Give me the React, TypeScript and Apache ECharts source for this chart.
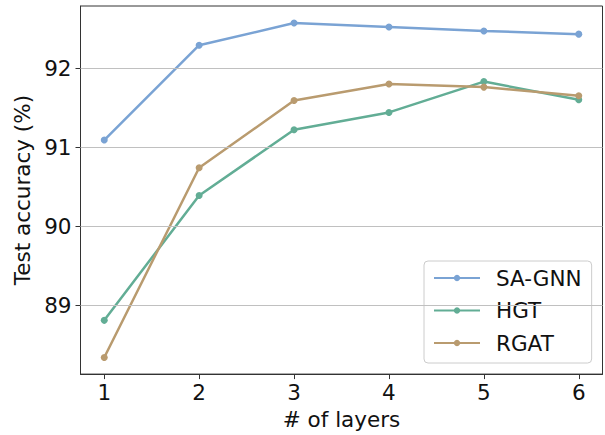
import React, { useEffect, useRef } from "react";
import * as echarts from "echarts";

const layers = [1, 2, 3, 4, 5, 6];
const saGnn = [91.09, 92.29, 92.57, 92.52, 92.47, 92.43];
const hgt = [88.81, 90.39, 91.22, 91.44, 91.83, 91.6];
const rgat = [88.34, 90.74, 91.59, 91.8, 91.76, 91.65];
const yTicks = [89, 90, 91, 92];
const seriesNames = ["SA-GNN", "HGT", "RGAT"];
const colors = ["#7aa3d4", "#62ad95", "#b99b6f"];

const FONT = "DejaVu Sans";
const X_MIN = 0.75;
const X_MAX = 6.25;
const Y_MIN = 88.13;
const Y_MAX = 92.786;

export default function App() {
  const ref = useRef<HTMLDivElement>(null);
  useEffect(() => {
    if (!ref.current) return;
    const chart = echarts.init(ref.current, undefined, { renderer: "svg" });
    const datas = [saGnn, hgt, rgat];
    chart.setOption({
      animation: false,
      backgroundColor: "#ffffff",
      grid: {
        left: 80.5,
        right: 2.5,
        top: 6,
        bottom: 60,
        show: true,
        borderColor: "#333333",
        borderWidth: 1,
        backgroundColor: "transparent",
      },
      legend: {
        orient: "vertical",
        left: 424,
        top: 261,
        padding: [6, 10, 9, 9],
        borderColor: "#cccccc",
        borderWidth: 1,
        borderRadius: 4,
        backgroundColor: "rgba(255,255,255,0.8)",
        itemWidth: 46,
        itemHeight: 8,
        itemGap: 10.5,
        textStyle: {
          fontFamily: FONT,
          fontSize: 21.5,
          color: "#111",
          lineHeight: 22,
          padding: [0, 0, 0, 11],
        },
        data: seriesNames,
      },
      xAxis: {
        type: "value",
        min: X_MIN,
        max: X_MAX,
        name: "# of layers",
        nameLocation: "middle",
        nameGap: 30,
        nameTextStyle: { fontFamily: FONT, fontSize: 21.5, color: "#111" },
        axisLine: { show: true, onZero: false, lineStyle: { color: "#333", width: 1 } },
        axisTick: {
          show: true,
          inside: false,
          length: 5,
          lineStyle: { color: "#333" },
          customValues: layers,
        },
        axisLabel: {
          fontFamily: FONT,
          fontSize: 21.5,
          color: "#111",
          margin: 7,
          customValues: layers,
        },
        splitLine: { show: false },
      },
      yAxis: {
        type: "value",
        min: Y_MIN,
        max: Y_MAX,
        name: "Test accuracy (%)",
        nameLocation: "middle",
        nameGap: 42,
        nameTextStyle: { fontFamily: FONT, fontSize: 21.5, color: "#111" },
        axisLine: { show: true, onZero: false, lineStyle: { color: "#333", width: 1 } },
        axisTick: {
          show: true,
          inside: false,
          length: 5,
          lineStyle: { color: "#333" },
          customValues: yTicks,
        },
        axisLabel: {
          fontFamily: FONT,
          fontSize: 21.5,
          color: "#111",
          margin: 9,
          customValues: yTicks,
        },
        splitLine: { show: false },
      },
      series: [
        {
          name: "__grid",
          type: "line",
          data: [[X_MIN, Y_MIN]],
          symbol: "none",
          lineStyle: { opacity: 0 },
          silent: true,
          z: 1,
          markLine: {
            silent: true,
            symbol: "none",
            label: { show: false },
            lineStyle: { color: "#c0c0c0", width: 1, type: "solid" },
            data: yTicks.map((v) => ({ yAxis: v })),
          },
        },
        ...seriesNames.map((name, i) => ({
          name,
          type: "line",
          z: 3,
          data: layers.map((x, j) => [x, datas[i][j]]),
          symbol: "circle",
          symbolSize: 7,
          showSymbol: true,
          itemStyle: { color: colors[i] },
          lineStyle: { color: colors[i], width: 2.5 },
        })),
      ],
    });
    return () => chart.dispose();
  }, []);
  return (
    <div
      ref={ref}
      style={{ position: "fixed", left: 0, top: 0, width: 605, height: 435 }}
    />
  );
}
